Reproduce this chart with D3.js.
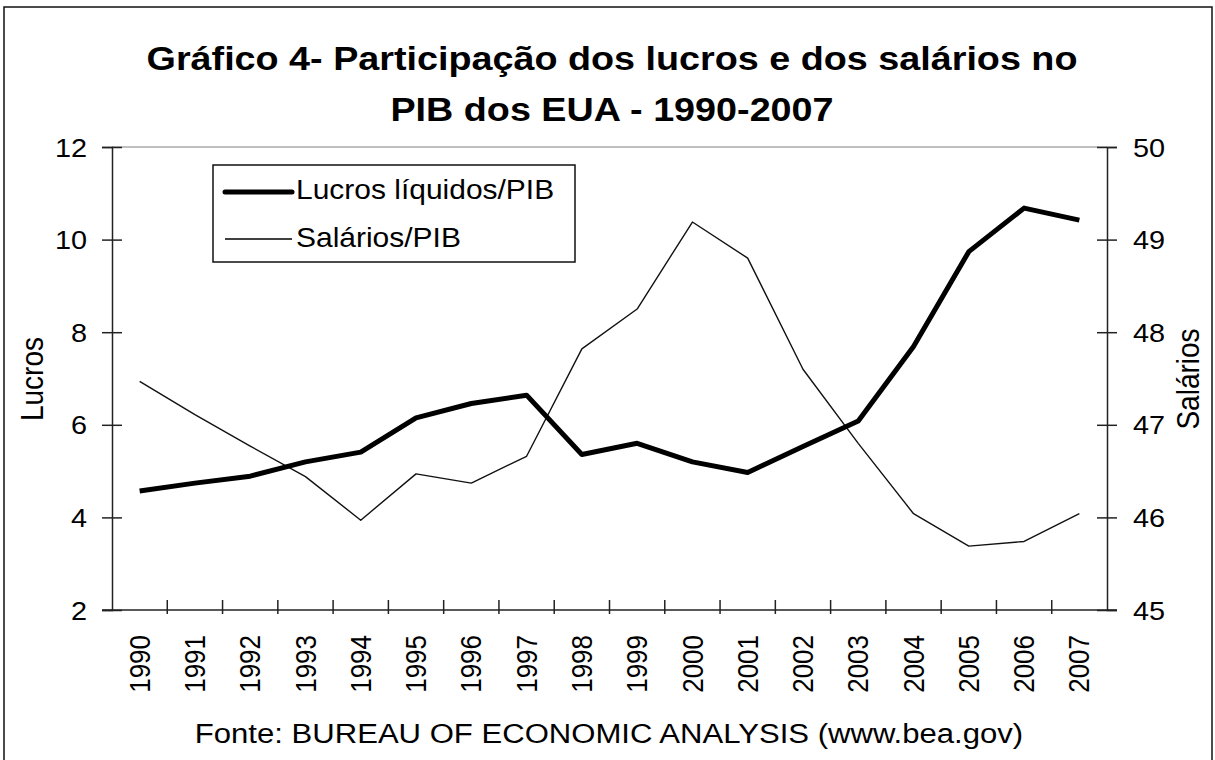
<!DOCTYPE html>
<html>
<head>
<meta charset="utf-8">
<script src="https://cdn.jsdelivr.net/npm/d3@7"></script>
<style>
  html, body { margin: 0; padding: 0; background: #fff; }
  svg { display: block; font-family: "Liberation Sans", Arial, sans-serif; }
</style>
</head>
<body>
<svg id="chart" width="1215" height="760"></svg>
<script>
const years = ["1990","1991","1992","1993","1994","1995","1996","1997","1998","1999","2000","2001","2002","2003","2004","2005","2006","2007"];
const lucros = [4.57,4.74,4.89,5.2,5.41,6.15,6.46,6.64,5.36,5.6,5.2,4.97,5.53,6.08,7.69,9.74,10.68,10.42];
const salarios = [47.47,47.11,46.77,46.44,45.97,46.47,46.37,46.66,47.82,48.25,49.19,48.8,47.6,46.8,46.04,45.69,45.74,46.04];
const leftTicks = [2,4,6,8,10,12];
const rightTicks = [45,46,47,48,49,50];
const titleLines = ["Gráfico 4- Participação dos lucros e dos salários no", "PIB dos EUA - 1990-2007"];
const seriesNames = ["Lucros líquidos/PIB", "Salários/PIB"];
const leftTitle = "Lucros";
const rightTitle = "Salários";
const sourceText = "Fonte: BUREAU OF ECONOMIC ANALYSIS (www.bea.gov)";

const SX = 1.11; // horizontal stretch of the reference text
const svg = d3.select("#chart");
const L = 112, R = 1107, T = 147, B = 610;

// outer frame
svg.append("rect").attr("x", 4).attr("y", 7).attr("width", 1208).attr("height", 760)
  .attr("fill", "none").attr("stroke", "#111").attr("stroke-width", 1.5);

// title
titleLines.forEach((t, i) => {
  svg.append("text")
    .attr("transform", `translate(612,${i === 0 ? 70 : 121}) scale(${SX},1)`)
    .attr("text-anchor", "middle").attr("font-size", 34).attr("font-weight", "bold")
    .attr("fill", "#000").text(t);
});

const x = d3.scalePoint().domain(years).range([L, R]).padding(0.5);
const step = x.step();
const yL = d3.scaleLinear().domain([2, 12]).range([B, T]);
const yR = d3.scaleLinear().domain([45, 50]).range([B, T]);

// top light border of plot
svg.append("line").attr("x1", L).attr("x2", R).attr("y1", T).attr("y2", T)
  .attr("stroke", "#aaa").attr("stroke-width", 1.5);

// left axis
const gl = svg.append("g").attr("transform", `translate(${L},0)`)
  .call(d3.axisLeft(yL).tickValues(leftTicks).tickSize(10).tickFormat(d3.format("d")));
gl.select(".domain").attr("stroke", "#222").attr("stroke-width", 1.5);
gl.selectAll(".tick line").attr("x1", -10).attr("x2", 10).attr("stroke", "#222").attr("stroke-width", 1.5);
gl.selectAll(".tick text").attr("x", null).attr("dy", null)
  .attr("transform", `translate(-25,9) scale(${SX},1)`)
  .attr("font-size", 26).attr("font-family", "Liberation Sans, Arial, sans-serif").attr("fill", "#000");

// right axis
const gr = svg.append("g").attr("transform", `translate(${R},0)`)
  .call(d3.axisRight(yR).tickValues(rightTicks).tickSize(10).tickFormat(d3.format("d")));
gr.select(".domain").attr("stroke", "#222").attr("stroke-width", 1.5);
gr.selectAll(".tick line").attr("x1", -10).attr("x2", 10).attr("stroke", "#222").attr("stroke-width", 1.5);
gr.selectAll(".tick text").attr("x", null).attr("dy", null)
  .attr("transform", `translate(26,9) scale(${SX},1)`)
  .attr("font-size", 26).attr("font-family", "Liberation Sans, Arial, sans-serif").attr("fill", "#000");

// x axis
svg.append("line").attr("x1", L - 10).attr("x2", R + 10).attr("y1", B).attr("y2", B)
  .attr("stroke", "#222").attr("stroke-width", 1.5);
const bounds = years.map(d => x(d) - step / 2).concat([x(years[years.length - 1]) + step / 2]);
svg.append("g").selectAll("line").data(bounds.slice(1, -1)).join("line")
  .attr("x1", d => d).attr("x2", d => d).attr("y1", B - 10).attr("y2", B + 4)
  .attr("stroke", "#222").attr("stroke-width", 1.5);
svg.append("g").selectAll("text").data(years).join("text")
  .attr("transform", d => `translate(${x(d)},635) scale(${SX},1) rotate(-90)`)
  .attr("text-anchor", "end").attr("dy", "0.35em")
  .attr("font-size", 26).attr("fill", "#000").text(d => d);

// axis titles
svg.append("text").attr("transform", `translate(32,379) scale(${SX},1) rotate(-90)`)
  .attr("text-anchor", "middle").attr("dy", "0.35em").attr("font-size", 28).attr("fill", "#000").text(leftTitle);
svg.append("text").attr("transform", `translate(1188,379) scale(${SX},1) rotate(-90)`)
  .attr("text-anchor", "middle").attr("dy", "0.35em").attr("font-size", 28).attr("fill", "#000").text(rightTitle);

// lines
const lineL = d3.line().x((d, i) => x(years[i])).y(d => yL(d));
const lineR = d3.line().x((d, i) => x(years[i])).y(d => yR(d));
svg.append("path").datum(salarios).attr("d", lineR).attr("fill", "none")
  .attr("stroke", "#111").attr("stroke-width", 1.4).attr("stroke-linejoin", "round");
svg.append("path").datum(lucros).attr("d", lineL).attr("fill", "none")
  .attr("stroke", "#000").attr("stroke-width", 5).attr("stroke-linejoin", "round");

// legend
const lg = svg.append("g");
lg.append("rect").attr("x", 213).attr("y", 165).attr("width", 362).attr("height", 97)
  .attr("fill", "#fff").attr("stroke", "#111").attr("stroke-width", 1.5);
const legRows = [{y: 192, w: 5, base: 199}, {y: 239, w: 1.4, base: 247}];
legRows.forEach((r, i) => {
  lg.append("line").attr("x1", 225).attr("x2", 292).attr("y1", r.y).attr("y2", r.y)
    .attr("stroke", "#000").attr("stroke-width", r.w).attr("stroke-linecap", i === 0 ? "round" : "butt");
  lg.append("text").attr("transform", `translate(296,${r.base}) scale(${SX},1)`)
    .attr("font-size", 27).attr("fill", "#000").text(seriesNames[i]);
});

// source
svg.append("text").attr("transform", `translate(609,743) scale(${SX},1)`)
  .attr("text-anchor", "middle").attr("font-size", 28).attr("fill", "#000").text(sourceText);
</script>
</body>
</html>
